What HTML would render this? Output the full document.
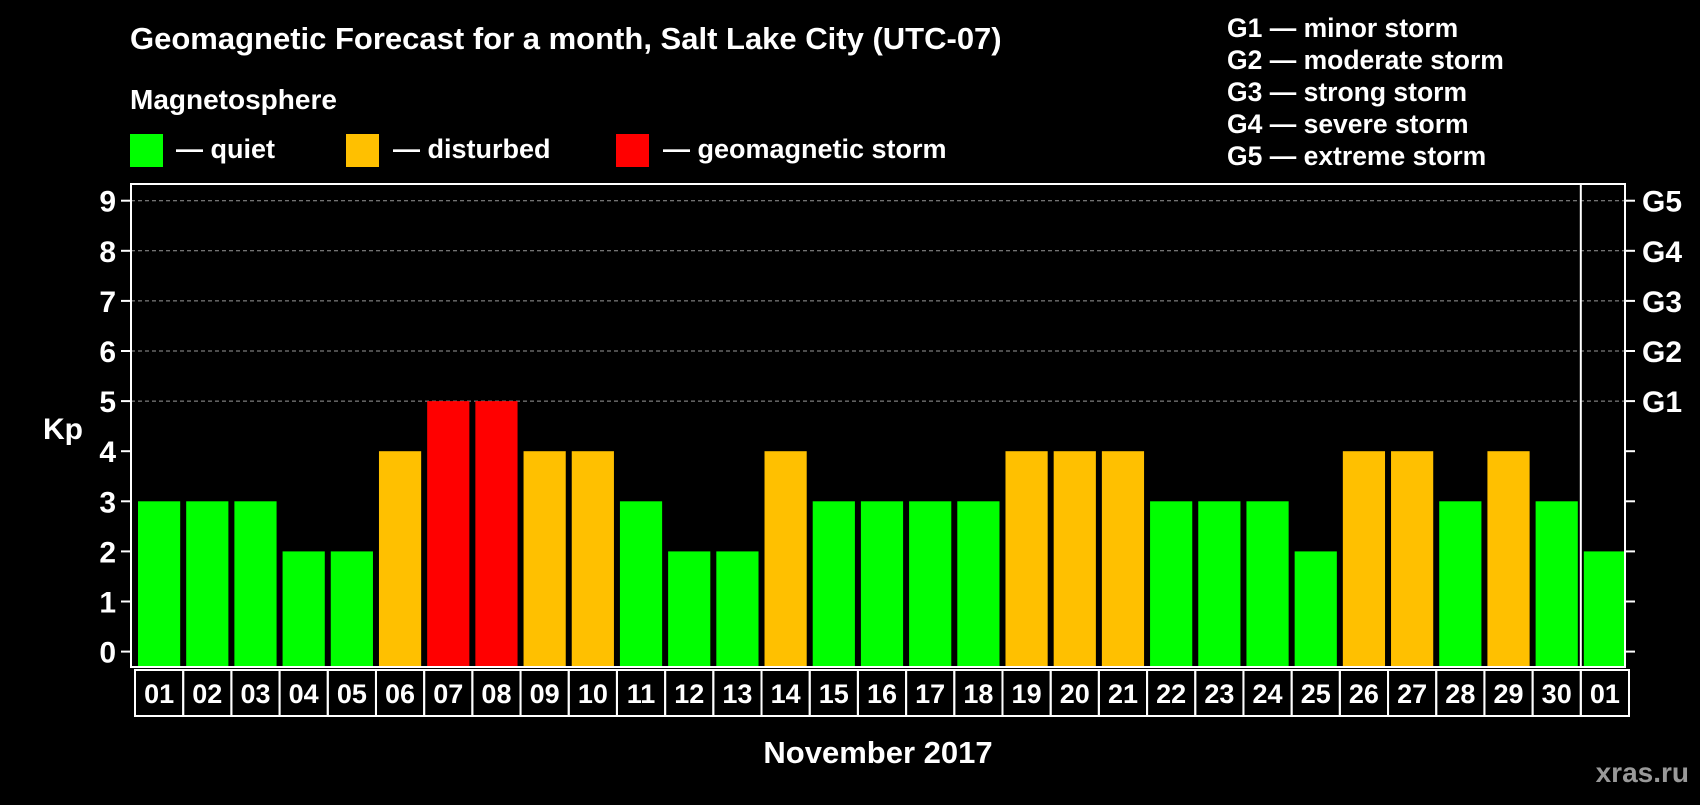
<!DOCTYPE html>
<html><head><meta charset="utf-8"><style>
body{margin:0;background:#000;width:1700px;height:800px;overflow:hidden}
svg text{font-family:"Liberation Sans",sans-serif;font-weight:bold;fill:#fff}
</style></head><body>
<svg id="chart" width="1700" height="800" viewBox="0 0 1700 800" xmlns="http://www.w3.org/2000/svg">
<text x="130" y="49" font-size="31">Geomagnetic Forecast for a month, Salt Lake City (UTC-07)</text>
<text x="130" y="109" font-size="28">Magnetosphere</text>
<rect x="130" y="134" width="33" height="33" fill="#00ff00"/>
<text x="176" y="158" font-size="27">— quiet</text>
<rect x="346" y="134" width="33" height="33" fill="#ffc000"/>
<text x="393" y="158" font-size="27">— disturbed</text>
<rect x="616" y="134" width="33" height="33" fill="#ff0000"/>
<text x="663" y="158" font-size="27">— geomagnetic storm</text>
<g font-size="26.5">
<text x="1227" y="37">G1 — minor storm</text>
<text x="1227" y="69">G2 — moderate storm</text>
<text x="1227" y="101">G3 — strong storm</text>
<text x="1227" y="133">G4 — severe storm</text>
<text x="1227" y="165">G5 — extreme storm</text>
</g>
<text x="43" y="439" font-size="30">Kp</text>
<text x="878" y="763" font-size="31" text-anchor="middle">November 2017</text>
<text x="1689" y="782" font-size="28" text-anchor="end" style="fill:#999">xras.ru</text>
<g id="grid"></g><g id="bars"></g><g id="axes"></g>
</svg>
<script>
const days=["01","02","03","04","05","06","07","08","09","10","11","12","13","14","15","16","17","18","19","20","21","22","23","24","25","26","27","28","29","30","01"];
const kp=[3,3,3,2,2,4,5,5,4,4,3,2,2,4,3,3,3,3,4,4,4,3,3,3,2,4,4,3,4,3,2];
const yTicks=[0,1,2,3,4,5,6,7,8,9];
const gLabels=["","","","","","G1","G2","G3","G4","G5"];
const NS="http://www.w3.org/2000/svg";
const L=131,R=1625,T=184,B=667;
const slot=(R-L)/days.length;
const y=v=>651.6-v*50.1;
const x=i=>L+i*slot;
function mk(tag,attrs,parent){const e=document.createElementNS(NS,tag);for(const k in attrs)e.setAttribute(k,attrs[k]);parent.appendChild(e);return e;}
const grid=document.getElementById('grid'),bars=document.getElementById('bars'),axes=document.getElementById('axes');
yTicks.forEach((t,i)=>{
  if(t>=5){const g=mk('line',{x1:L,x2:R,y1:y(t),y2:y(t),stroke:'#999','stroke-dasharray':'4,3','stroke-width':1},grid);
  
  }
  const tl=mk('line',{x1:L-10,x2:L,y1:y(t),y2:y(t),stroke:'#fff','stroke-width':2},axes);
  
  
  const tr=mk('line',{x1:R,x2:R+10,y1:y(t),y2:y(t),stroke:'#fff','stroke-width':2},axes);
  
  
  const lab=mk('text',{x:L-15,y:y(t)+11,'font-size':30,'text-anchor':'end'},axes);lab.textContent=t;
  
  
  if(gLabels[i]){const gl=mk('text',{x:R+17,y:y(t)+11,'font-size':30},axes);gl.textContent=gLabels[i];
  
  }
});
kp.forEach((v,i)=>{
  const c=v>=5?'#ff0000':(v>=4?'#ffc000':'#00ff00');
  const b=mk('rect',{x:x(i)+7,y:y(v),width:slot-6,height:B-y(v),fill:c},bars);
  
  
  const cell=mk('rect',{x:x(i)+4,y:B+3,width:slot,height:46,fill:'none',stroke:'#fff','stroke-width':2},axes);
  
  
  const t=mk('text',{x:x(i)+4+slot/2,y:B+36,'font-size':27,'text-anchor':'middle'},axes);t.textContent=days[i];
  
  
});
const frame=mk('rect',{x:L,y:T,width:R-L,height:B-T,fill:'none',stroke:'#fff','stroke-width':2},axes);


const div=mk('line',{x1:x(30)+4,x2:x(30)+4,y1:T,y2:B,stroke:'#fff','stroke-width':2},axes);


</script>
</body></html>
